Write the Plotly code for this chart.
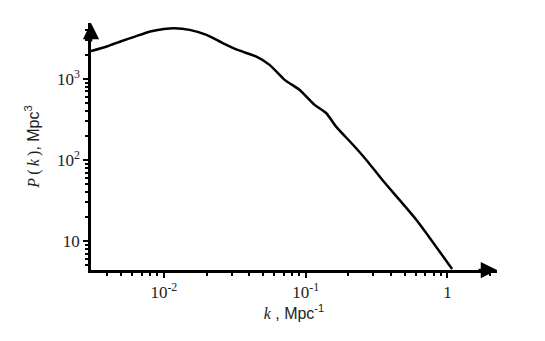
"""Matter power spectrum P(k) on log-log axes with arrowed axes."""

import plotly.graph_objects as go

# wavenumber k [Mpc^-1] and power spectrum P(k) [Mpc^3]
k_values = [0.00306, 0.0040, 0.0050, 0.00625, 0.0080, 0.0100, 0.0119,
            0.0152, 0.0200, 0.0262, 0.0343, 0.0450, 0.0557, 0.0711,
            0.0908, 0.1157, 0.1400, 0.1640, 0.2150, 0.2680, 0.3480,
            0.6050, 1.0800]
p_values = [2200, 2530, 2920, 3330, 3850, 4130, 4230,
            4030, 3490, 2750, 2230, 1880, 1490, 973,
            731, 478, 377, 258, 155, 100, 56.6,
            18.2, 4.5]

x_tick_vals = [0.01, 0.1, 1]
x_tick_text = ['10<sup>-2</sup>', '10<sup>-1</sup>', '1']
y_tick_vals = [10, 100, 1000]
y_tick_text = ['10', '10<sup>2</sup>', '10<sup>3</sup>']

x_minor = [m * 10.0 ** e for e in (-3, -2, -1, 0) for m in range(2, 10)]
y_minor = [m * 10.0 ** e for e in (0, 1, 2, 3) for m in range(2, 10)]

SERIF = 'Liberation Serif'
SANS = 'Liberation Sans'

fig = go.Figure()
fig.add_trace(go.Scatter(
    x=k_values, y=p_values, mode='lines',
    line=dict(color='black', width=2.5, shape='spline', smoothing=0.6),
    showlegend=False, hoverinfo='skip'))

axis_common = dict(
    type='log', showgrid=False, zeroline=False, showline=True,
    linecolor='black', linewidth=2.5, ticks='outside', ticklen=5,
    tickwidth=1.5, tickcolor='black', tickmode='array',
    tickfont=dict(family=SERIF, size=17, color='#222222'))

fig.update_xaxes(
    range=[-2.514, 0.35], tickvals=x_tick_vals, ticktext=x_tick_text,
    minor=dict(tickmode='array', tickvals=x_minor, ticks='outside',
               ticklen=3, tickwidth=1.5, tickcolor='black', showgrid=False),
    title=dict(
        text=(f"<span style='font-family:{SERIF}'><i>k</i></span>"
              f" , Mpc<sup>-1</sup>"),
        font=dict(family=SANS, size=16, color='#222222'), standoff=7),
    **axis_common)
fig.update_yaxes(
    range=[0.642, 3.69], tickvals=y_tick_vals, ticktext=y_tick_text,
    minor=dict(tickmode='array', tickvals=y_minor, ticks='outside',
               ticklen=3, tickwidth=1.5, tickcolor='black', showgrid=False),
    title=dict(
        text=(f"<span style='font-family:{SERIF}'><i>P</i>\u2009(\u2009"
              f"<i>k</i>\u2009)</span>, Mpc<sup>3</sup>"),
        font=dict(family=SANS, size=16, color='#222222'), standoff=14),
    **axis_common)

# arrowheads at the ends of both axes
fig.add_annotation(x=1, y=0, xref='paper', yref='paper', ax=-20, ay=0,
                   showarrow=True, arrowhead=2, arrowsize=1.3,
                   arrowwidth=2.5, arrowcolor='black', text='')
fig.add_annotation(x=0, y=1, xref='paper', yref='paper', ax=0, ay=20,
                   showarrow=True, arrowhead=2, arrowsize=1.3,
                   arrowwidth=2.5, arrowcolor='black', text='')

# the page body adds an 8 px offset, so the figure is 8 px smaller
fig.update_layout(
    width=537, height=333,
    margin=dict(l=83, r=48, t=15, b=71, autoexpand=False),
    paper_bgcolor='white', plot_bgcolor='white')

fig.write_html('out.html')
